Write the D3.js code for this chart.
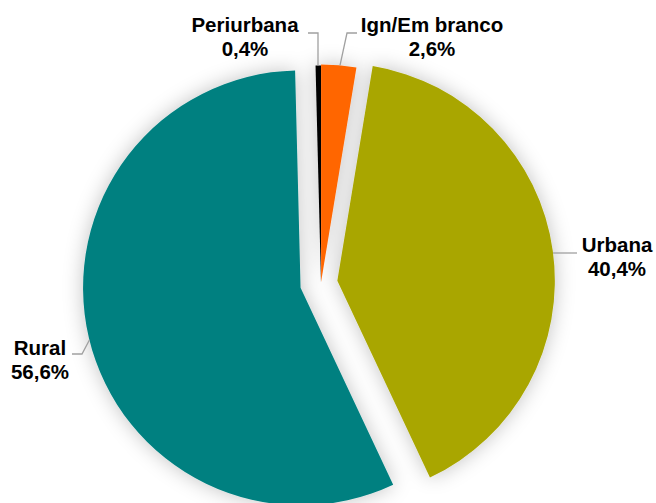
<!DOCTYPE html>
<html>
<head>
<meta charset="utf-8">
<script src="https://cdn.jsdelivr.net/npm/d3@7"></script>
<style>
  body { margin: 0; background: #fff; }
  text { font-family: "Liberation Sans", Arial, sans-serif; font-weight: bold; }
</style>
</head>
<body>
<div id="chart"></div>
<script>
// data, clockwise from 12 o'clock
const categories = ["Ign/Em branco", "Urbana", "Rural", "Periurbana"];
const values = [2.6, 40.4, 56.6, 0.4];
const valueLabels = ["2,6%", "40,4%", "56,6%", "0,4%"];

const colors = ["#ff6600", "#a9a600", "#008080", "#000000"];
const explode = {"Ign/Em branco": 1, "Urbana": 16.5, "Rural": 21, "Periurbana": 0};

// label anchors and leader lines
const labelLayout = {
  "Periurbana":    {x: 245, y: 32,  line: [[308, 33], [318, 33]], hit: {x: 318}},
  "Ign/Em branco": {x: 432, y: 32,  line: [[357, 33], [347, 33]], hit: {x: 340}},
  "Urbana":        {x: 617, y: 252, line: [[577, 253]], hit: {y: 253}},
  "Rural":         {x: 40,  y: 355, line: [[72, 354], [82, 354]], hit: {y: 340}}
};

let width = 656, height = 503;
let cx = 321, cy = 283, R = 217.5;

let svg = d3.select('#chart').append('svg').attr('width', width).attr('height', height)
  .style('background', '#fff');

let defs = svg.append('defs');
let f = defs.append('filter').attr('id', 'glow')
  .attr('x', '-20%').attr('y', '-20%').attr('width', '140%').attr('height', '140%');
f.append('feGaussianBlur').attr('in', 'SourceAlpha').attr('stdDeviation', 10).attr('result', 'blur');
f.append('feFlood').attr('flood-color', '#000').attr('flood-opacity', 0.24).attr('result', 'col');
f.append('feComposite').attr('in', 'col').attr('in2', 'blur').attr('operator', 'in').attr('result', 'shadow');
let merge = f.append('feMerge');
merge.append('feMergeNode').attr('in', 'shadow');
merge.append('feMergeNode').attr('in', 'SourceGraphic');

let data = categories.map((c, i) => ({name: c, value: values[i], label: valueLabels[i]}));

let pie = d3.pie().sort(null).value(d => d.value);
let arc = d3.arc().innerRadius(0).outerRadius(R);
let color = d3.scaleOrdinal().domain(categories).range(colors);

let arcs = pie(data).map(d => {
  let mid = (d.startAngle + d.endAngle) / 2;
  let off = explode[d.data.name];
  d.ax = cx + off * Math.sin(mid);
  d.ay = cy - off * Math.cos(mid);
  return d;
});

let g = svg.append('g').attr('filter', 'url(#glow)');

g.selectAll('path')
  .data(arcs)
  .enter()
  .append('path')
  .attr('transform', d => `translate(${d.ax},${d.ay})`)
  .attr('d', arc)
  .style('fill', d => color(d.data.name));

// leader lines
arcs.forEach(d => {
  let lay = labelLayout[d.data.name];
  let end;
  if (lay.hit.x !== undefined) {
    let dx = lay.hit.x - d.ax;
    end = [lay.hit.x, d.ay - Math.sqrt(R * R - dx * dx)];
  } else {
    let dy = lay.hit.y - d.ay;
    let s = lay.x < d.ax ? -1 : 1;
    end = [d.ax + s * Math.sqrt(R * R - dy * dy), lay.hit.y];
  }
  let pts = lay.line.concat([end]);
  svg.append('path')
    .attr('d', d3.line()(pts))
    .attr('fill', 'none')
    .attr('stroke', '#a0a0a0')
    .attr('stroke-width', 1.3);

  let t = svg.append('text')
    .attr('text-anchor', 'middle')
    .attr('font-size', 20.5)
    .attr('fill', '#000');
  t.append('tspan').attr('x', lay.x).attr('y', lay.y).text(d.data.name);
  t.append('tspan').attr('x', lay.x).attr('y', lay.y + 24).text(d.data.label);
});
</script>
</body>
</html>
